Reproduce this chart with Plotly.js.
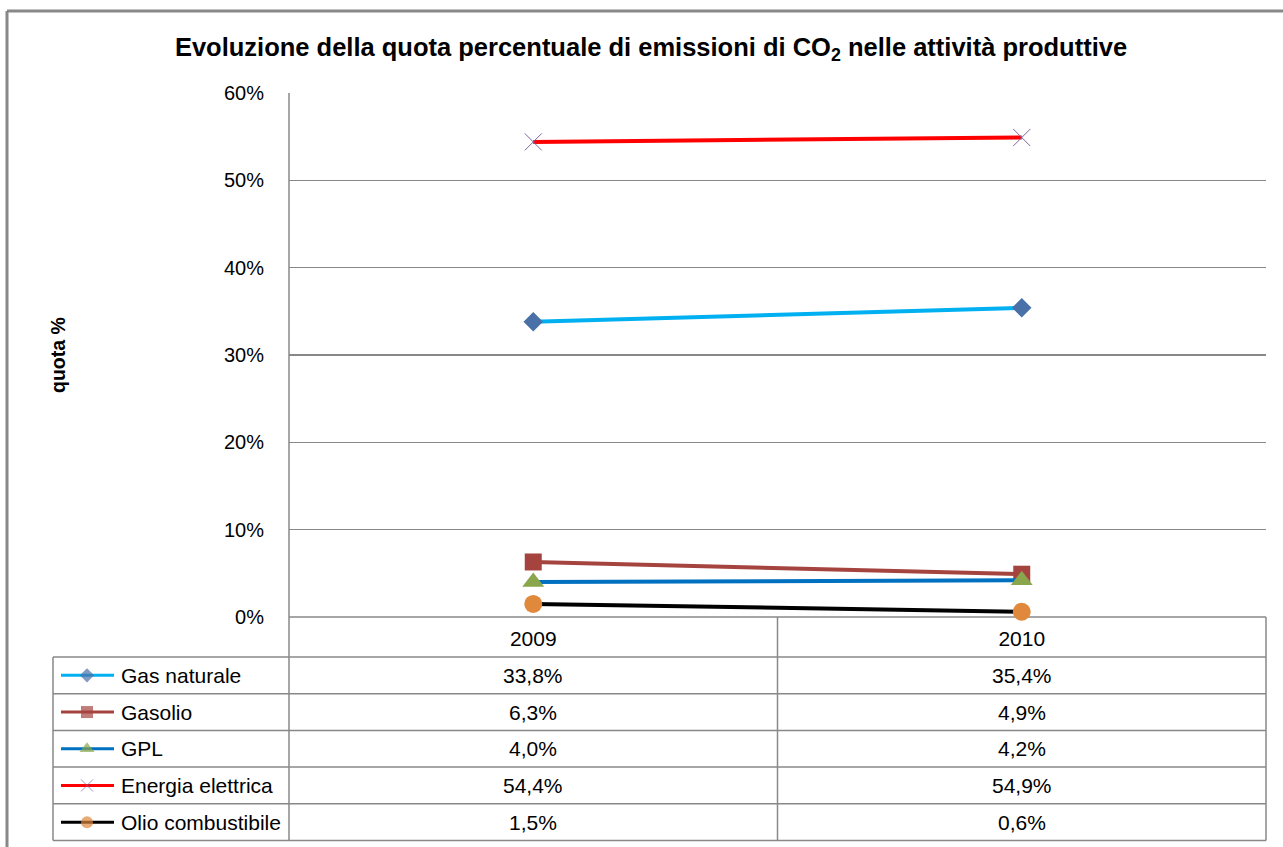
<!DOCTYPE html>
<html>
<head>
<meta charset="utf-8">
<script src="https://cdn.plot.ly/plotly-3.0.1.min.js"></script>
<style>html,body{margin:0;padding:0;background:#fff;}#chart{width:1283px;height:847px;}</style>
</head>
<body>
<div id="chart"></div>
<script>
// ---- data ----
const categories = ['2009', '2010'];
const seriesNames = ['Gas naturale', 'Gasolio', 'GPL', 'Energia elettrica', 'Olio combustibile'];
const gasNaturale = [0.338, 0.354];
const gasolio = [0.063, 0.049];
const gpl = [0.040, 0.042];
const energiaElettrica = [0.544, 0.549];
const olioCombustibile = [0.015, 0.006];
const chartTitle = 'Evoluzione della quota percentuale di emissioni di CO<sub>2</sub> nelle attività produttive';
const yTitle = 'quota %';

// ---- styles ----
const styles = [
  {line: '#00B0F0', marker: '#4A70A8', symbol: 'diamond', size: 15, lsize: 11, mline: 0},
  {line: '#A5443F', marker: '#A5443F', symbol: 'square', size: 17, lsize: 12, mline: 0},
  {line: '#0070C0', marker: '#8AA64C', symbol: 'triangle-up', size: 19, lsize: 13, mline: 0},
  {line: '#FF0000', marker: '#8064A2', symbol: 'x-thin-open', size: 17, lsize: 12, mline: 1},
  {line: '#000000', marker: '#E0883C', symbol: 'circle', size: 18, lsize: 12, mline: 0}
];
const seriesValues = [gasNaturale, gasolio, gpl, energiaElettrica, olioCombustibile];

const W = 1283, H = 847;
const plotL = 289, plotR = 1266, plotT = 93, plotB = 617;
const tableL = 53, headerB = 657, rowH = 36.7;
const colMid = (plotL + plotR) / 2;
const px = x => x / W;
const py = y => 1 - y / H;
const FONT = 'Liberation Sans, Arial, sans-serif';
const GRID = '#888888';

const traces = [];
seriesNames.forEach((name, i) => {
  const s = styles[i];
  traces.push({
    type: 'scatter', mode: 'lines+markers', name: name,
    x: categories, y: seriesValues[i], xaxis: 'x', yaxis: 'y',
    line: {color: s.line, width: 4},
    marker: {color: s.marker, symbol: s.symbol, size: s.size,
             line: {color: s.marker, width: s.mline}},
    showlegend: false, hoverinfo: 'skip', cliponaxis: false
  });
});

// legend samples inside the data table (overlay axis in pixel units)
seriesNames.forEach((name, i) => {
  const s = styles[i];
  const yc = headerB + rowH * (i + 0.5);
  traces.push({
    type: 'scatter', mode: 'lines+markers', xaxis: 'x2', yaxis: 'y2',
    x: [61, 87, 114], y: [yc, yc, yc],
    line: {color: s.line, width: 3},
    marker: {color: s.marker, symbol: s.symbol, size: [0, s.lsize, 0],
             line: {color: s.marker, width: s.mline}},
    showlegend: false, hoverinfo: 'skip', cliponaxis: false
  });
});

const shapes = [];
const line = (x0, y0, x1, y1, w, c) => shapes.push({
  type: 'line', xref: 'paper', yref: 'paper', layer: 'below',
  x0: px(x0), y0: py(y0), x1: px(x1), y1: py(y1),
  line: {color: c || GRID, width: w || 1.5}
});
const tableB = headerB + rowH * seriesNames.length;
// outer chart border (left and top)
line(7, 11, 7, H, 3, '#888888');
line(7, 11, W, 11, 3, '#888888');
// axis line and table grid
line(plotL, plotT, plotL, tableB, 1.5);
line(plotL, plotB, plotR, plotB, 1.5);
line(colMid, plotB, colMid, tableB, 1.5);
line(plotR, plotB, plotR, tableB, 1.5);
line(tableL, headerB, tableL, tableB, 1.5);
for (let r = 0; r <= seriesNames.length; r++) {
  line(tableL, headerB + rowH * r, plotR, headerB + rowH * r, 1.5);
}

const fmt = v => (v * 100).toFixed(1).replace('.', ',') + '%';
const annotations = [];
seriesNames.forEach((name, i) => {
  const yc = headerB + rowH * (i + 0.5);
  annotations.push({xref: 'paper', yref: 'paper', x: px(119), y: py(yc),
    xanchor: 'left', yanchor: 'middle', text: name, showarrow: false,
    font: {family: FONT, size: 21, color: '#000'}});
  categories.forEach((c, j) => {
    const xc = plotL + (plotR - plotL) * (j + 0.5) / categories.length;
    annotations.push({xref: 'paper', yref: 'paper', x: px(xc), y: py(yc),
      xanchor: 'center', yanchor: 'middle', text: fmt(seriesValues[i][j]), showarrow: false,
      font: {family: FONT, size: 21, color: '#000'}});
  });
});
annotations.push({xref: 'paper', yref: 'paper', x: px(58), y: py(355),
  xanchor: 'center', yanchor: 'middle', textangle: -90, text: '<b>' + yTitle + '</b>',
  showarrow: false, font: {family: FONT, size: 19.5, color: '#000'}});

const layout = {
  width: W, height: H,
  margin: {l: 0, r: 0, t: 0, b: 0, pad: 0},
  paper_bgcolor: '#fff', plot_bgcolor: 'rgba(0,0,0,0)',
  showlegend: false,
  title: {text: '<b>' + chartTitle + '</b>', x: px(651), xanchor: 'center',
          xref: 'paper', y: py(47), yanchor: 'middle', yref: 'paper',
          font: {family: FONT, size: 25.5, color: '#000'}},
  xaxis: {domain: [px(plotL), px(plotR)], anchor: 'y', type: 'category',
          range: [-0.5, 1.5], showgrid: false, zeroline: false, showline: false,
          ticks: '', ticklabelstandoff: 7,
          tickfont: {family: FONT, size: 21, color: '#000'}, fixedrange: true},
  yaxis: {domain: [py(plotB), py(plotT)], anchor: 'x', range: [0, 0.6], dtick: 0.1,
          tick0: 0, tickformat: '.0%', showgrid: true, gridcolor: GRID, gridwidth: 1.5,
          zeroline: false, showline: false, ticks: '', ticklabelstandoff: 24,
          tickfont: {family: FONT, size: 20, color: '#000'}, fixedrange: true},
  xaxis2: {domain: [0, 1], anchor: 'y2', range: [0, W], visible: false, fixedrange: true},
  yaxis2: {domain: [0, 1], anchor: 'x2', range: [H, 0], visible: false, fixedrange: true},
  shapes: shapes,
  annotations: annotations
};

Plotly.newPlot('chart', traces, layout, {staticPlot: true, displayModeBar: false});
</script>
</body>
</html>
